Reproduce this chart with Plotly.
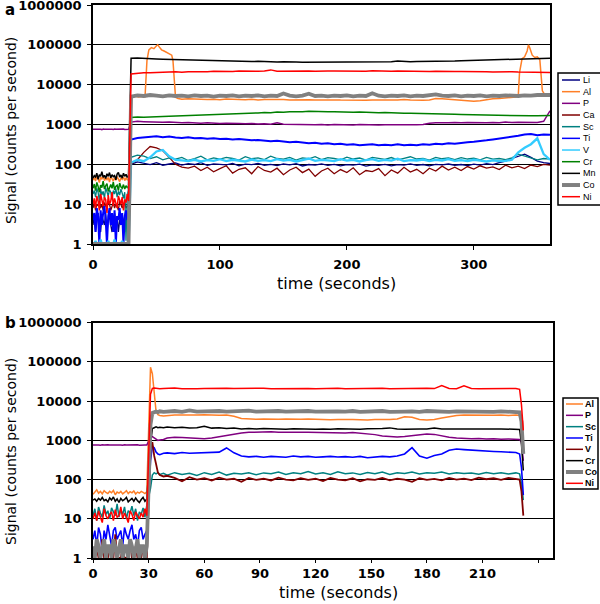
import plotly.graph_objects as go

# ---------------- Panel a data ----------------
a_names = ["Li", "Al", "P", "Ca", "Sc", "Ti", "V", "Cr", "Mn", "Co", "Ni"]
a_colors = ["#000080", "#FF7F27", "#800080", "#800000", "#008080", "#0000FF",
            "#33CCFF", "#008000", "#000000", "#808080", "#FF0000"]
a_widths = [1.3, 1.5, 1.5, 1.3, 1.3, 2, 2.3, 1.5, 1.5, 3.8, 1.5]

t_base_a = list(range(0, 29))          # baseline seconds 0..28
t_main_a = list(range(30, 361, 5))     # ablation seconds 30..360
t_al_a = ([30, 33, 36, 39, 41, 42.5, 44, 46, 48, 50, 51, 52, 54, 56, 58, 60, 62, 63, 64, 65, 67, 70]
          + list(range(75, 331, 5))
          + [333, 335, 336, 338, 340, 342, 343, 344, 346, 348, 350, 352, 353, 354, 356, 358, 360])

a_base = {
    "Li": [3,5,2,4,6,3,2,5,4,3, 6,2,4,5,3,2,4,6,3,5, 2,4,3,5,4,2,5,3,4],
    "Al": [40,46,38,50,44,35,48,42,52,39, 45,41,47,36,50,43,38,46,40,49, 44,37,45,42,48,39,46,41,44],
    "P": [760,770,750,765,755,775,760,745,770,758, 762,750,768,755,765,760,748,772,757,763, 750,768,760,755,770,752,765,758,762],
    "Ca": [8,11,7,10,9,12,8,10,7,11, 9,8,12,10,7,9,11,8,10,9, 7,12,9,8,10,11,8,9,10],
    "Sc": [18,22,15,25,20,12,24,17,21,14, 26,19,16,23,20,13,22,18,25,15, 21,17,24,19,14,20,1.2,18,22],
    "Ti": [4,6,2,8,5,1,7,3,6,9, 4,1,5,8,3,6,2,7,1,5, 4,8,3,6,1,5,7,4,6],
    "V": [1,1,1.2,1,1,1,1.3,1,1,1, 1,1,1.2,1,1,1,1,1.3,1,1, 1,1,1,1.2,1,1,1,1,1],
    "Cr": [25,32,22,35,28,20,30,26,38,24, 29,33,21,27,31,25,36,23,28,30, 22,34,27,25,31,24,29,26,28],
    "Mn": [45,52,48,60,42,55,50,65,47,53, 44,58,50,62,46,55,49,52,41,57, 63,48,54,45,60,50,56,47,52],
    "Co": [1,1,1,1,1,1,1,1,1,1, 1,1,1,1,1,1,1,1,1,1, 1,1,1,1,1,1,1,1,1],
    "Ni": [10,14,8,16,12,7,18,11,9,15, 13,6,17,10,12,20,9,14,11,8, 16,12,10,15,7,13,11,18,12],
}

a_main = {
    "Li": [100,115,105,98,110,95,102,108,96,104,
           99,110,94,103,100,97,106,92,101,98,
           105,95,100,93,102,97,104,91,99,96,
           103,94,100,92,98,95,101,90,97,94,
           100,92,98,96,103,94,99,92,100,97,
           102,95,99,93,101,96,104,98,110,120,
           140,160,180,150,120,110,105],
    "Al": [5000,5200,4900,5100,5000,40000,75000,85000,80000,95000,100000,90000,75000,70000,
           65000,62000,55000,40000,10000,4800,4500,4300,
           4400,4300,4350,4250,4300,4200,4350,4250,4300,4200,
           4300,4150,4250,4300,4200,4250,4150,4200,4100,4200,
           4100,4150,4050,4150,4100,4050,4150,4100,4050,4150,
           4100,4200,4100,4150,4250,4100,4000,4050,4100,4500,
           4400,4300,4100,4000,3900,3850,3950,4200,4400,4500,
           4600,4800,
           4900,5200,20000,45000,50000,70000,100000,85000,55000,48000,50000,42000,20000,7000,5500,5400,5500],
    "P": [1150,1200,1180,1150,1170,1140,1160,1120,1100,1120,
          1090,1080,1100,1070,1060,1080,1050,1060,1040,1060,
          1030,1050,1020,1100,1010,1000,1020,990,1010,980,
          1000,970,1000,980,990,970,1000,980,990,970,
          990,980,1000,970,990,980,1000,1080,1100,1090,
          1110,1120,1100,1130,1110,1120,1100,1130,1110,1150,
          1120,1140,1130,1150,1120,1200,2200],
    "Ca": [100,130,200,280,260,220,150,100,85,80,
           90,70,85,65,78,92,60,75,82,58,
           88,70,64,80,55,72,85,62,76,50,
           68,80,58,74,62,82,55,70,66,78,
           52,72,60,84,64,75,58,80,68,90,
           72,85,70,88,76,92,80,86,74,95,
           82,90,78,96,88,100,95],
    "Sc": [150,170,160,140,155,130,145,135,150,125,
           140,160,130,145,135,150,140,128,155,138,
           146,132,160,140,135,150,128,145,138,155,
           132,148,140,130,152,136,144,128,150,140,
           134,148,130,142,155,136,140,128,150,138,
           145,132,148,136,142,130,150,135,140,132,
           145,180,160,145,130,140,135],
    "Ti": [420,460,470,490,510,480,500,470,460,480,
           450,460,440,450,430,440,420,430,410,400,
           410,390,380,390,370,360,370,350,340,350,
           330,340,320,330,310,320,300,310,320,300,
           310,300,320,300,310,300,320,310,330,320,
           340,330,350,360,370,380,400,420,440,470,
           500,520,560,580,540,560,550],
    "V": [110,130,120,150,210,230,160,130,125,120,
          130,118,128,122,135,120,130,125,118,132,
          122,128,120,135,124,130,118,128,140,122,
          130,125,120,135,124,130,118,128,135,122,
          130,124,138,120,128,125,132,120,130,125,
          135,122,128,120,130,124,118,125,120,122,
          130,200,260,320,450,180,130],
    "Cr": [1500,1550,1520,1560,1540,1580,1600,1620,1650,1640,
           1700,1720,1750,1780,1800,1820,1850,1880,1900,1920,
           1950,2000,1980,2050,2020,2080,2050,2100,2150,2100,
           2120,2080,2100,2050,2080,2030,2050,2000,2020,1980,
           1990,1950,1960,1920,1930,1900,1880,1860,1870,1840,
           1820,1800,1790,1770,1760,1740,1720,1710,1700,1690,
           1680,1670,1660,1650,1660,1650,1680],
    "Mn": [46000,46500,45000,44500,44000,43500,43000,42000,42500,41500,
           41000,40500,40000,40500,39500,39000,39500,38500,38500,38000,
           38500,37500,37500,37000,37500,36500,37000,36500,36500,36000,
           36500,36000,36000,36500,36000,36500,36000,36500,36500,37000,
           36500,37500,39000,37500,37500,38000,38000,38500,38500,39000,
           39500,39000,40000,40500,40500,41500,42000,42500,43000,43500,
           44000,44500,45000,45500,46000,46500,46000],
    "Co": [5000,5400,5200,5500,5300,5100,5400,5200,5300,5100,
           5400,5200,5300,5000,5300,5200,5400,5100,5300,5200,
           5400,5100,5300,5200,6000,5300,5100,5300,5900,5200,
           5300,5100,5300,5200,5400,5100,5300,5200,6100,5300,
           5100,5300,5200,5400,5100,5300,5200,5400,5700,5300,
           5200,5400,5100,5300,5200,5400,5100,5300,5200,5400,
           5300,5200,5400,5300,5500,5400,5500],
    "Ni": [18500,19500,19800,20000,20500,20200,20800,21000,20600,21200,
           21000,21500,21200,21800,21400,21600,21300,21900,21500,21800,
           21600,22000,23500,21800,22000,21700,22100,21800,22000,21700,
           22200,21900,22000,21800,22100,21900,22000,21700,22200,21800,
           22000,21700,22100,21800,21900,21600,21800,21500,21700,21400,
           21600,21300,21500,21200,21400,21000,21200,20900,21100,20800,
           21000,20700,20500,20800,20400,20600,20300],
}

# ---------------- Panel b data ----------------
b_names = ["Al", "P", "Sc", "Ti", "V", "Cr", "Co", "Ni"]
b_colors = ["#FF7F27", "#800080", "#008080", "#0000FF", "#800000", "#000000", "#808080", "#FF0000"]
b_widths = [1.5, 1.5, 1.5, 1.6, 1.8, 1.5, 3.8, 1.5]

t_base_b = list(range(0, 30))          # 0..29
t_main_b = [31, 32, 33, 34, 35, 36, 38, 40] + list(range(44, 229, 4)) + [230, 231, 232]

b_base = {
    "Al": [42,48,55,45,50,43,52,47,44,50, 46,53,41,48,45,50,43,47,52,44, 49,46,51,43,48,45,50,47,44,49],
    "P": [760,770,755,765,750,775,760,748,768,758, 762,752,770,756,764,760,750,772,758,762, 754,768,760,756,770,752,764,758,762,760],
    "Sc": [12,18,9,20,14,11,22,13,16,10, 19,15,12,24,11,17,13,20,10,16, 14,21,12,18,9,15,13,19,11,22],
    "Ti": [3,5,2,6,4,1.5,5,3,7,4, 2,5,6,3,4,5,2,6,4,3, 5,7,3,4,2,5,6,3,4,5],
    "V": [1,1,2,1,1,3,1,1,1,2, 1,1,4,1,1,1,2,1,1,1, 3,1,1,2,1,1,1,2,1,1],
    "Cr": [30,32,28,33,30,35,29,31,27,34, 30,36,28,32,26,33,29,31,35,27, 30,33,28,34,29,26,31,35,28,32],
    "Co": [2,1,3,2,1,2,3,1,2,2, 1,3,2,1,2,3,1,2,2,1, 3,2,1,2,3,1,2,2,1,2],
    "Ni": [10,14,9,16,11,8,18,12,10,13, 15,9,17,11,12,20,10,14,11,8, 16,13,9,15,12,10,14,11,18,12],
}

b_main = {
    "Al": [73000,50000,15000,5500,4500,4300,4200,4300,
           4400,4450,4350,4400,4500,4400,4350,4450,4100,3600,
           3500,3450,3500,3400,3450,3500,3400,3450,3500,3400,
           3450,3350,3400,3450,3400,3350,3300,3400,3350,3400,
           3500,4000,3900,3400,3300,3400,3700,4000,4300,4400,
           4350,4400,4300,4350,4400,4300,4400,
           4300,3000,600],
    "P": [1200,1250,1150,1050,1000,1020,1050,1150,
          1200,1180,1150,1120,1100,1150,1250,1350,1450,1550,
          1600,1620,1600,1650,1600,1620,1580,1620,1600,1580,
          1550,1600,1570,1550,1580,1540,1500,1400,1300,1250,
          1220,1250,1300,1350,1450,1420,1300,1200,1150,1120,
          1100,1120,1080,1100,1070,1090,1080,
          1050,900,300],
    "Sc": [60,130,150,140,150,135,145,130,
           150,135,145,128,150,135,155,130,145,138,
           150,132,148,140,155,135,150,140,160,138,
           150,135,158,140,148,135,152,140,155,135,
           150,142,156,138,150,145,155,138,150,142,
           148,136,152,140,150,138,148,
           140,80,30],
    "Ti": [300,700,650,500,450,430,470,480,
           460,490,470,480,470,490,500,640,480,400,
           380,390,370,390,380,370,400,380,390,370,
           380,390,375,385,370,390,360,380,390,380,
           400,450,650,400,350,410,450,560,600,580,
           560,540,530,520,510,500,490,
           450,200,40],
    "V": [600,900,400,250,150,130,120,125,
          110,90,115,100,108,95,112,100,105,88,
          110,98,105,95,112,100,95,108,98,105,
          92,110,100,96,108,90,102,98,110,95,
          105,100,88,108,98,104,95,110,100,106,
          97,112,102,108,98,110,105,
          100,50,12],
    "Cr": [800,2000,2100,2200,2100,2150,2100,2200,
           2100,2150,2050,2100,2300,2050,2100,2000,2050,1950,
           2000,1950,2000,1950,1980,1920,1970,1940,1990,1930,
           1960,1920,1980,1940,1960,1920,1970,1950,2000,2080,
           1950,1930,1970,1940,1960,2050,1950,1930,1970,1940,
           1960,1930,1950,1940,1960,1930,1950,
           1900,800,170],
    "Co": [2500,5000,5300,5400,5200,5500,5300,5400,
           5600,5300,5800,5400,5500,5300,5600,5400,5500,5300,
           5700,5400,5500,5300,5600,5400,5500,5300,5600,5400,
           5500,5300,5500,5400,5600,5300,5500,5400,5600,5300,
           5500,5400,5500,5300,5600,5400,5500,5300,5500,5400,
           5300,5500,5400,5300,5500,5400,5300,
           5200,3000,450],
    "Ni": [15000,21000,21500,21000,21200,20800,21000,21200,
           21500,20800,21200,20700,21000,21300,20800,21200,20900,21100,
           20700,21000,21300,20800,21000,20900,21200,20800,21000,20700,
           21100,20900,21300,20800,21000,20700,21100,20900,21200,20800,
           21000,21300,20800,21000,21200,20900,25000,21000,20800,24500,
           21100,20800,21000,20700,21000,20800,21000,
           20000,8000,1800],
}

y_tickvals = [1, 10, 100, 1000, 10000, 100000, 1000000]
y_ticktext = ["1", "10", "100", "1000", "10000", "100000", "1000000"]
xa_tickvals = [0, 100, 200, 300]
xa_ticktext = ["0", "100", "200", "300"]
xb_tickvals = [0, 30, 60, 90, 120, 150, 180, 210, 240]
xb_ticktext = ["0", "30", "60", "90", "120", "150", "180", "210", ""]

# ---------------- Figure ----------------
W, H = 600, 604
ML, MR, MT, MB = 93, 47, 5, 46
PW, PH = W - ML - MR, H - MT - MB


def px_x(p):
    return (p - ML) / PW


def px_y(p):
    return (H - MB - p) / PH


fig = go.Figure()

for name, col, w in zip(a_names, a_colors, a_widths):
    tm = t_al_a if name == "Al" else t_main_a
    fig.add_trace(go.Scatter(
        x=t_base_a + tm, y=a_base[name] + a_main[name], mode="lines",
        line=dict(color=col, width=w), name=name, showlegend=False,
        xaxis="x", yaxis="y"))

for name, col, w in zip(b_names, b_colors, b_widths):
    fig.add_trace(go.Scatter(
        x=t_base_b + t_main_b, y=b_base[name] + b_main[name], mode="lines",
        line=dict(color=col, width=w), name=name, showlegend=False,
        xaxis="x2", yaxis="y2"))

tickfont = dict(family="DejaVu Sans", size=13, color="black", weight="bold")

common_y = dict(type="log", range=[0, 6], tickmode="array", tickvals=y_tickvals,
                ticktext=y_ticktext, showgrid=True, gridcolor="black", gridwidth=1.3,
                showline=True, linecolor="black", linewidth=1.6, mirror=True,
                ticks="outside", ticklen=4, tickcolor="black", tickfont=tickfont,
                ticklabelstandoff=3, ticklabeloverflow="allow", zeroline=False)
common_x = dict(showgrid=False, showline=True, linecolor="black", linewidth=1.6,
                mirror=True, ticks="outside", tickcolor="black",
                tickfont=tickfont, tickmode="array", zeroline=False,
                ticklabeloverflow="allow")

fig.update_layout(
    width=W, height=H,
    margin=dict(l=ML, r=MR, t=MT, b=MB, autoexpand=False),
    paper_bgcolor="white", plot_bgcolor="white",
    showlegend=False,
    xaxis=dict(common_x, domain=[0, px_x(550)], range=[0, 360], ticklen=4,
               ticklabelstandoff=4, tickvals=xa_tickvals, ticktext=xa_ticktext, anchor="y"),
    yaxis=dict(common_y, domain=[px_y(244), 1], anchor="x"),
    xaxis2=dict(common_x, domain=[0, 1], range=[0, 248], ticklen=3,
                ticklabelstandoff=0, tickvals=xb_tickvals, ticktext=xb_ticktext, anchor="y2"),
    yaxis2=dict(common_y, domain=[0, px_y(322.7)], anchor="x2"),
)

shapes = []
annotations = []

# Legend a
shapes.append(dict(type="rect", xref="paper", yref="paper",
                   x0=px_x(558), x1=px_x(602), y0=px_y(73), y1=px_y(205),
                   line=dict(color="black", width=1.5), fillcolor="white", layer="above"))
for i, (name, col) in enumerate(zip(a_names, a_colors)):
    yy = 80 + 11.67 * i
    shapes.append(dict(type="line", xref="paper", yref="paper",
                       x0=px_x(562), x1=px_x(580), y0=px_y(yy), y1=px_y(yy),
                       line=dict(color=col, width=4 if name == "Co" else 1.5), layer="above"))
    annotations.append(dict(text=name, xref="paper", yref="paper", x=px_x(581), y=px_y(yy),
                            xanchor="left", yanchor="middle", showarrow=False,
                            font=dict(family="Liberation Sans", size=9, color="black")))

# Legend b
shapes.append(dict(type="rect", xref="paper", yref="paper",
                   x0=px_x(563), x1=px_x(598), y0=px_y(398), y1=px_y(489),
                   line=dict(color="black", width=1.5), fillcolor="white", layer="above"))
for i, (name, col) in enumerate(zip(b_names, b_colors)):
    yy = 404 + 11.33 * i
    shapes.append(dict(type="line", xref="paper", yref="paper",
                       x0=px_x(566), x1=px_x(583), y0=px_y(yy), y1=px_y(yy),
                       line=dict(color=col, width=4 if name == "Co" else 1.5), layer="above"))
    annotations.append(dict(text="<b>" + name + "</b>", xref="paper", yref="paper", x=px_x(583), y=px_y(yy),
                            xanchor="left", yanchor="middle", showarrow=False,
                            font=dict(family="Liberation Sans", size=9, color="black")))

# Axis titles and panel labels
title_font = dict(family="DejaVu Sans", size=14, color="black")
for yc in (131, 452):
    annotations.append(dict(text="Signal (counts per second)", xref="paper", yref="paper",
                            x=px_x(11), y=px_y(yc), textangle=-90, showarrow=False,
                            xanchor="center", yanchor="middle", font=title_font))
annotations.append(dict(text="time (seconds)", xref="paper", yref="paper",
                        x=px_x(336), y=px_y(283), showarrow=False, xanchor="center",
                        yanchor="middle", font=dict(family="DejaVu Sans", size=16, color="black")))
annotations.append(dict(text="time (seconds)", xref="paper", yref="paper",
                        x=px_x(338), y=px_y(593), showarrow=False, xanchor="center",
                        yanchor="middle", font=dict(family="DejaVu Sans", size=16, color="black")))
annotations.append(dict(text="<b>a</b>", xref="paper", yref="paper", x=px_x(3), y=px_y(10),
                        showarrow=False, xanchor="left", yanchor="middle",
                        font=dict(family="DejaVu Sans", size=15, color="black")))
annotations.append(dict(text="<b>b</b>", xref="paper", yref="paper", x=px_x(3), y=px_y(323),
                        showarrow=False, xanchor="left", yanchor="middle",
                        font=dict(family="DejaVu Sans", size=15, color="black")))

fig.update_layout(shapes=shapes, annotations=annotations)

fig.write_html("out.html", config={"displayModeBar": False},
               post_script="document.body.style.margin='0';document.body.style.overflow='hidden';")
